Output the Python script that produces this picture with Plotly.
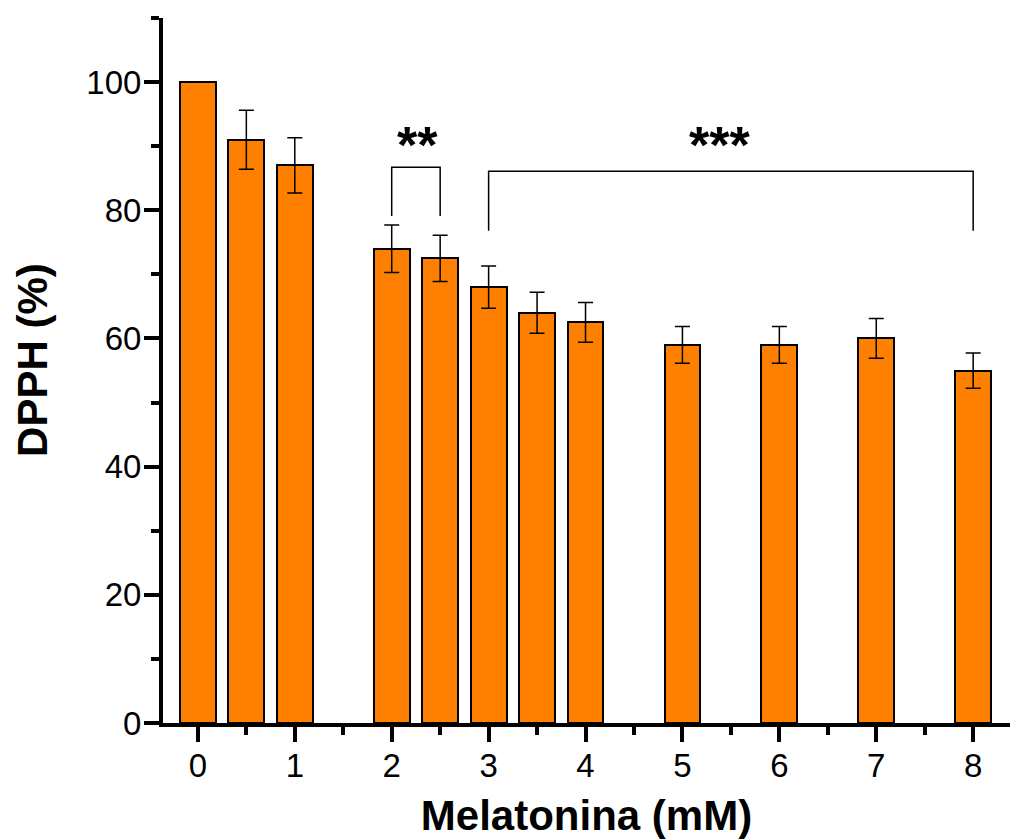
import plotly.graph_objects as go

# ---- data ----
conc = [0, 0.5, 1, 2, 2.5, 3, 3.5, 4, 5, 6, 7, 8]
dpph = [100, 91, 87, 74, 72.5, 68, 64, 62.5, 59, 59, 60, 55]
err = [0, 4.6, 4.3, 3.7, 3.6, 3.3, 3.2, 3.1, 2.85, 2.85, 3.1, 2.75]

x_ticks = [0, 1, 2, 3, 4, 5, 6, 7, 8]
y_ticks = [0, 20, 40, 60, 80, 100]

# significance brackets
br2_x = [2, 2, 2.5, 2.5]
br2_y = [79.1, 86.7, 86.7, 79.1]
br3_x = [3, 3, 8, 8]
br3_y = [76.8, 86.1, 86.1, 76.8]
star_labels = ["**", "***"]
star_x = [2.27, 5.38]
star_y = [90.2, 90.2]

FONT = "Arial, 'Liberation Sans', sans-serif"

fig = go.Figure()
fig.add_trace(go.Bar(
    x=conc, y=dpph, width=0.37,
    marker=dict(color="#FF8000", line=dict(color="black", width=2)),
    error_y=dict(type="data", array=err, visible=True, color="black",
                 thickness=1.5, width=7.5),
    showlegend=False,
))
for bx, by in [(br2_x, br2_y), (br3_x, br3_y)]:
    fig.add_trace(go.Scatter(x=bx, y=by, mode="lines",
                             line=dict(color="black", width=1.5),
                             showlegend=False, hoverinfo="skip"))

for t, sx, sy in zip(star_labels, star_x, star_y):
    fig.add_annotation(x=sx, y=sy, text=t, showarrow=False,
                       xanchor="center", yanchor="middle",
                       font=dict(family=FONT, size=52, color="black", weight=700))

# y-axis title
fig.add_annotation(x=-0.1535, y=0.515, xref="paper", yref="paper",
                   text="DPPH (%)", textangle=-90, showarrow=False,
                   xanchor="center", yanchor="middle",
                   font=dict(family=FONT, size=42, color="black", weight=700))

fig.update_layout(
    width=1010, height=839,
    margin=dict(l=163, r=0, t=18, b=116),
    plot_bgcolor="white", paper_bgcolor="white",
    bargap=0,
    font=dict(family=FONT, color="black"),
)
fig.update_xaxes(
    range=[-0.36, 8.38], tickvals=x_ticks, ticktext=[str(v) for v in x_ticks],
    showgrid=False, zeroline=False,
    showline=True, linecolor="black", linewidth=4,
    ticks="outside", ticklen=15, tickwidth=4, tickcolor="black",
    tickfont=dict(size=33, family=FONT), ticklabelstandoff=-5,
    minor=dict(dtick=0.5, tick0=0, ticks="outside", ticklen=8, tickwidth=4, tickcolor="black", showgrid=False),
    title=dict(text="Melatonina (mM)", font=dict(size=42, family=FONT, weight=700), standoff=23),
    automargin=False,
)
fig.update_yaxes(
    range=[0, 110], tickvals=y_ticks, ticktext=[str(v) for v in y_ticks],
    showgrid=False, zeroline=False,
    showline=True, linecolor="black", linewidth=4,
    ticks="outside", ticklen=15, tickwidth=4, tickcolor="black",
    tickfont=dict(size=33, family=FONT), ticklabelstandoff=-4,
    minor=dict(dtick=20, tick0=10, ticks="outside", ticklen=8, tickwidth=4, tickcolor="black", showgrid=False),
    automargin=False,
)

fig.write_html("out.html")
